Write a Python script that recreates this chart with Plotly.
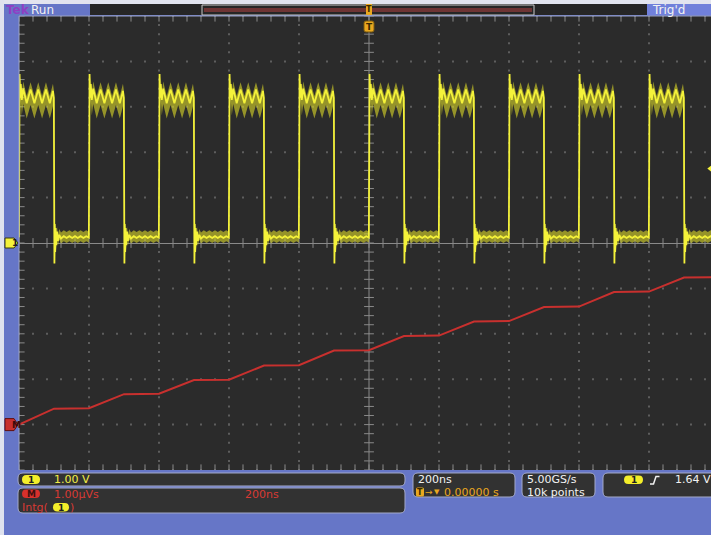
import numpy as np
import plotly.graph_objects as go

# ---------------------------------------------------------------- canvas
W, H = 711, 535
PX0, PX1 = 19, 711          # graticule left / visible right edge (px)
PY0, PY1 = 16, 470          # graticule top / bottom (px)

# ---------------------------------------------------------------- settings
TIME_PER_DIV = 200          # ns / div
CH1_V_PER_DIV = 1.00        # V / div
MATH_PER_DIV = 1.00         # µVs / div
MATH_POSITION = -4          # divisions
TRIGGER_LEVEL = 1.64        # V
H_DIVS, V_DIVS = 10, 10

# ---------------------------------------------------------------- channel 1
ch1_rising_edges = [-1000, -800, -600, -400, -200, 0, 200, 400, 600, 800]   # ns

# one period of the waveform, offset (ns) from its rising edge, and volts
period_t = [0, 0.8, 1.6, 3.0, 5.0, 8.0, 12, 22, 33, 44, 55, 66, 77, 88, 97, 99.6,
            100.4, 101.2, 102.2, 103.4, 104.8, 106.5, 108.5, 111, 115, 120,
            128, 136, 144, 152, 160, 168, 176, 184, 192, 199.6]
period_v = [0.12, 2.2, 3.72, 3.2, 3.5, 3.15, 3.4, 3.08, 3.38, 3.08, 3.38, 3.08,
            3.38, 3.08, 3.35, 3.2,
            1.2, -0.45, 0.42, -0.2, 0.33, -0.05, 0.25, 0.05, 0.18, 0.1,
            0.15, 0.11, 0.15, 0.11, 0.15, 0.11, 0.15, 0.11, 0.15, 0.12]

# persistence band around the core trace (V above, V below)
high_band = (0.16, 0.34)
low_band = (0.13, 0.11)

# ---------------------------------------------------------------- math: Intg(1)
intg_t = [-1000, -900, -800, -700, -600, -500, -400, -300, -200, -100, 0,
          100, 200, 300, 400, 500, 600, 700, 800, 900, 1000]
intg_v = [0.0, 0.35, 0.36, 0.67, 0.68, 0.98, 0.99, 1.30, 1.31, 1.63, 1.64,
          1.95, 1.96, 2.27, 2.28, 2.59, 2.60, 2.92, 2.93, 3.24, 3.25]   # µVs

# ---------------------------------------------------------------- colours
BLUE = "#6676c7"
SCREEN = "#2b2b2b"
YEL = "#f4f23a"
YEL_TXT = "#f2ee46"
RED = "#c8302e"
RED_TXT = "#d83a34"
ORANGE = "#e9a820"
WHITE = "#f2f2f2"
BOX = "#323232"
BOX_EDGE = "#a3a9c9"
GRID = "#5e5e5e"
AXIS = "#8a8a8a"
FONT = "DejaVu Sans"

# axis ranges
px_per_div_x = 70.0
t_left = -H_DIVS / 2 * TIME_PER_DIV
t_right = t_left + (PX1 - PX0) / px_per_div_x * TIME_PER_DIV
v_half = V_DIVS / 2 * CH1_V_PER_DIV
m_lo = (-V_DIVS / 2 - MATH_POSITION) * MATH_PER_DIV
m_hi = (V_DIVS / 2 - MATH_POSITION) * MATH_PER_DIV

fig = go.Figure()

# ---------------------------------------------------------------- graticule
grid_x, grid_y = [], []
for k in range(H_DIVS + 1):
    t = t_left + k * TIME_PER_DIV
    if t == 0:
        continue
    for j in range(V_DIVS * 5 + 1):
        grid_x.append(t)
        grid_y.append(-v_half + j * CH1_V_PER_DIV / 5)
for k in range(V_DIVS + 1):
    v = -v_half + k * CH1_V_PER_DIV
    if v == 0:
        continue
    for j in range(H_DIVS * 5 + 1):
        grid_x.append(t_left + j * TIME_PER_DIV / 5)
        grid_y.append(v)
fig.add_trace(go.Scatter(x=grid_x, y=grid_y, mode="markers",
                         marker=dict(symbol="square", size=2, color=GRID),
                         hoverinfo="skip", showlegend=False))

# centre cross ticks and edge ticks
tick_v = [-v_half + j * CH1_V_PER_DIV / 5 for j in range(V_DIVS * 5 + 1)]
tick_t = [t_left + j * TIME_PER_DIV / 5 for j in range(H_DIVS * 5 + 1)]
fig.add_trace(go.Scatter(x=[0] * len(tick_v), y=tick_v, mode="markers",
                         marker=dict(symbol="line-ew", size=7, line=dict(color=AXIS, width=1)),
                         hoverinfo="skip", showlegend=False))
fig.add_trace(go.Scatter(x=tick_t, y=[0] * len(tick_t), mode="markers",
                         marker=dict(symbol="line-ns", size=7, line=dict(color=AXIS, width=1)),
                         hoverinfo="skip", showlegend=False))
fig.add_trace(go.Scatter(x=tick_t + tick_t, y=[v_half] * len(tick_t) + [-v_half] * len(tick_t),
                         mode="markers",
                         marker=dict(symbol="line-ns", size=8, line=dict(color=AXIS, width=1)),
                         hoverinfo="skip", showlegend=False))
fig.add_trace(go.Scatter(x=[t_left] * len(tick_v), y=tick_v, mode="markers",
                         marker=dict(symbol="line-ew", size=8, line=dict(color=AXIS, width=1)),
                         hoverinfo="skip", showlegend=False))

# ---------------------------------------------------------------- channel 1 trace
ch1_t, ch1_v = [], []
for e in ch1_rising_edges:
    ch1_t += [e + dt for dt in period_t]
    ch1_v += period_v

band_x, band_y = [], []
for e in ch1_rising_edges:
    for lo_t, hi_t, (up, dn) in ((2.0, 99.6, high_band), (101.0, 199.6, low_band)):
        seg = [(dt, v) for dt, v in zip(period_t, period_v) if lo_t <= dt <= hi_t]
        band_x += [e + dt for dt, _ in seg] + [e + dt for dt, _ in reversed(seg)] + [None]
        band_y += [v + up for _, v in seg] + [v - dn for _, v in reversed(seg)] + [None]
fig.add_trace(go.Scatter(x=band_x, y=band_y, mode="lines", fill="toself",
                         fillcolor="rgba(220,216,40,0.6)", line=dict(width=0),
                         hoverinfo="skip", showlegend=False))
fig.add_trace(go.Scatter(x=ch1_t, y=ch1_v, mode="lines",
                         line=dict(color=YEL, width=1.8),
                         hoverinfo="skip", showlegend=False))

# ---------------------------------------------------------------- math trace
fig.add_trace(go.Scatter(x=intg_t, y=intg_v, mode="lines", yaxis="y2",
                         line=dict(color=RED, width=2),
                         hoverinfo="skip", showlegend=False))

# trigger level marker at the right edge
fig.add_trace(go.Scatter(x=[t_right - 2], y=[TRIGGER_LEVEL], mode="markers",
                         marker=dict(symbol="triangle-left", size=6, color=YEL),
                         cliponaxis=False, hoverinfo="skip", showlegend=False))

# ---------------------------------------------------------------- helpers
def P(x, y):
    return f"{x / W:.5f},{1 - y / H:.5f}"


def rrect(x0, y0, x1, y1, r):
    return (f"M {P(x0 + r, y0)} L {P(x1 - r, y0)} Q {P(x1, y0)} {P(x1, y0 + r)} "
            f"L {P(x1, y1 - r)} Q {P(x1, y1)} {P(x1 - r, y1)} L {P(x0 + r, y1)} "
            f"Q {P(x0, y1)} {P(x0, y1 - r)} L {P(x0, y0 + r)} Q {P(x0, y0)} {P(x0 + r, y0)} Z")


shapes = []
annotations = []


def box(x0, y0, x1, y1, r=5, fill=BOX, edge=BOX_EDGE, width=1, layer="above"):
    shapes.append(dict(type="path", path=rrect(x0, y0, x1, y1, r), xref="paper", yref="paper",
                       fillcolor=fill, line=dict(color=edge, width=width), layer=layer))


def rect(x0, y0, x1, y1, fill, edge=None, width=0, layer="above"):
    shapes.append(dict(type="rect", xref="paper", yref="paper",
                       x0=x0 / W, x1=x1 / W, y0=1 - y1 / H, y1=1 - y0 / H,
                       fillcolor=fill, line=dict(color=edge or fill, width=width), layer=layer))


def text(x, y, s, color=WHITE, size=11, anchor="left", bold=False, family=FONT):
    annotations.append(dict(x=x / W, y=1 - y / H, xref="paper", yref="paper", text=s,
                            showarrow=False, xanchor=anchor, yanchor="middle", borderpad=0,
                            font=dict(family=family, size=size, color=color,
                                      weight="bold" if bold else "normal")))


def pill(x0, y0, x1, y1, fill, label, color="#202020", size=9):
    box(x0, y0, x1, y1, r=(y1 - y0) / 2, fill=fill, edge=fill, width=0)
    text((x0 + x1) / 2, (y0 + y1) / 2 + 0.5, label, color=color, size=size, anchor="center", bold=True)


# ---------------------------------------------------------------- outer frame
rect(0, 0, W, 4, "#e2e4ef")
rect(0, 0, 4, H, "#dfe2ee")

# top status line
text(5, 10, "Tek", color="#8f3fc4", size=12, bold=True)
text(30, 10, "Run", color=WHITE, size=12)
rect(90, 4, 647, 15, "#262626")
rect(202, 5, 534, 15, "#262626", edge="#c9c9c9", width=1)
rect(204, 8, 532, 12, "#6e3434")
rect(647, 4, W, 15, "#7080db")
text(651, 10, "Trig'd", color=WHITE, size=12)

# trigger position markers
rect(366, 4, 372, 15, ORANGE)
text(369, 9.5, "T", color="#3a2a00", size=8, anchor="center", bold=True)
box(364, 21, 374, 32, r=2, fill=ORANGE, edge="#7a5a10", width=1)
text(369, 26.5, "T", color="#3a2a00", size=9, anchor="center", bold=True)

# channel reference markers on the left
shapes.append(dict(type="path", xref="paper", yref="y", xsizemode="pixel", ysizemode="pixel",
                   xanchor=PX0 / W, yanchor=0,
                   path="M -14,5 L -5,5 L -1,0 L -5,-5 L -14,-5 Z",
                   fillcolor=YEL, line=dict(color="#3a3a10", width=1), layer="above"))
annotations.append(dict(x=(PX0 - 9) / W, y=0, xref="paper", yref="y", text="1", showarrow=False,
                        font=dict(family=FONT, size=9, color="#202020", weight="bold")))
shapes.append(dict(type="path", xref="paper", yref="y2", xsizemode="pixel", ysizemode="pixel",
                   xanchor=PX0 / W, yanchor=0,
                   path="M -14,6 L -5,6 L -1,0 L -5,-6 L -14,-6 Z",
                   fillcolor=RED, line=dict(color="#601010", width=1), layer="above"))
annotations.append(dict(x=(PX0 - 9) / W, y=0, xref="paper", yref="y2", text="M", showarrow=False,
                        font=dict(family=FONT, size=9, color="#3a0a0a", weight="bold")))

# ---------------------------------------------------------------- bottom readouts
box(18, 473, 405, 486)
pill(22, 475, 40, 484, "#f4ee2a", "1")
text(53, 479.5, f"{CH1_V_PER_DIV:.2f} V", color=YEL_TXT)

box(18, 488, 405, 513)
pill(22, 489.5, 40, 498, "#d8302c", "M", color="#401010")
text(53, 494, f"{MATH_PER_DIV:.2f}µVs", color=RED_TXT)
text(244, 494, f"{TIME_PER_DIV}ns", color=RED_TXT)
text(21, 507, "Intg(", color=RED_TXT)
pill(53, 503, 69, 511.5, "#f4ee2a", "1")
text(69, 507, ")", color=RED_TXT)

box(413, 473, 515, 497)
text(417, 479.5, f"{TIME_PER_DIV}ns", color=WHITE)
box(416, 487.5, 424, 496.5, r=1.5, fill=ORANGE, edge=ORANGE, width=0)
text(420, 492, "T", color="#3a2a00", size=8, anchor="center", bold=True)
text(424, 492, "→", color=ORANGE, size=9)
text(433, 492, "▼", color=ORANGE, size=7)
text(443, 492, "0.00000 s", color=ORANGE)

box(522, 473, 595, 497)
text(526, 479.5, "5.00GS/s", color=WHITE)
text(526, 492, "10k points", color=WHITE)

box(603, 473, 722, 497)
pill(624, 475.5, 643, 484, "#f4ee2a", "1")
shapes.append(dict(type="path", xref="paper", yref="paper",
                   path=f"M {P(650, 484)} L {P(653.5, 484)} L {P(656, 476.5)} L {P(659.5, 476.5)}",
                   line=dict(color=WHITE, width=1.5), layer="above"))
text(674, 479.5, f"{TRIGGER_LEVEL:.2f} V", color=WHITE)

# ---------------------------------------------------------------- layout
fig.update_layout(
    width=W, height=H,
    margin=dict(l=0, r=0, t=0, b=0),
    paper_bgcolor=BLUE, plot_bgcolor=SCREEN,
    xaxis=dict(domain=[PX0 / W, PX1 / W], range=[t_left, t_right], showgrid=False,
               zeroline=False, showticklabels=False, ticks="", fixedrange=True,
               showline=False),
    yaxis=dict(domain=[1 - PY1 / H, 1 - PY0 / H], range=[-v_half, v_half], showgrid=False,
               zeroline=True, zerolinecolor=AXIS, zerolinewidth=1,
               showticklabels=False, ticks="", showline=False),
    yaxis2=dict(overlaying="y", range=[m_lo, m_hi], showgrid=False, zeroline=False,
                showticklabels=False, ticks="", showline=False),
    shapes=shapes + [
        dict(type="line", xref="x", yref="paper", x0=0, x1=0,
             y0=1 - PY1 / H, y1=1 - PY0 / H, line=dict(color=AXIS, width=1), layer="below"),
        dict(type="line", xref="paper", yref="paper", x0=PX0 / W, x1=1,
             y0=1 - PY0 / H, y1=1 - PY0 / H, line=dict(color="#9aa2c4", width=1)),
        dict(type="line", xref="paper", yref="paper", x0=PX0 / W, x1=PX0 / W,
             y0=1 - PY1 / H, y1=1 - PY0 / H, line=dict(color="#9aa2c4", width=1)),
    ],
    annotations=annotations,
    showlegend=False,
)

fig.write_html("out.html")
